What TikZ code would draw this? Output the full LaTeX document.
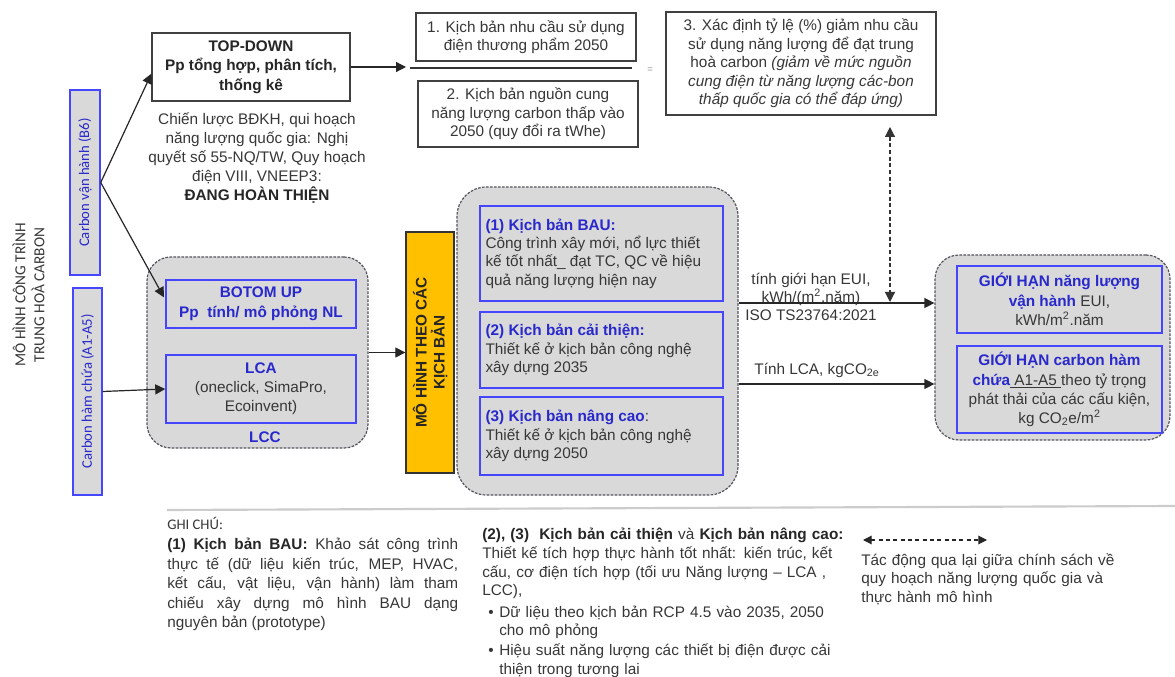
\documentclass[tikz,border=0pt]{standalone}
\usepackage{fontspec}
\setmainfont{Liberation Sans}
\newfontfamily\carl{Carlito}
\usetikzlibrary{arrows.meta,calc}
\definecolor{txt}{RGB}{55,55,55}
\definecolor{bt}{RGB}{40,40,205}
\definecolor{bb}{RGB}{70,70,255}
\definecolor{gf}{RGB}{217,217,217}
\definecolor{org}{RGB}{255,192,0}
\definecolor{dgr}{RGB}{85,85,95}
\hyphenpenalty=10000
\exhyphenpenalty=10000
\begin{document}
\begin{tikzpicture}[x=0.75pt,y=-0.75pt,
  font=\fontsize{11.5}{13.8}\selectfont,
  plainbox/.style={draw=black!75,line width=0.9pt,fill=white,align=center,inner sep=0pt,text=txt},
  bluebox/.style={draw=bb,line width=1.1pt,fill=gf,inner sep=0pt,align=center},
  cont/.style={draw=dgr,dash pattern=on 2pt off 1pt,line width=0.9pt,fill=gf,rounded corners=18pt,inner sep=0pt},
  arr/.style={-{Triangle[length=7.5pt,width=7.5pt]},line width=0.9pt,draw=black!85},
  darr/.style={{Triangle[length=7.5pt,width=7.5pt]}-{Triangle[length=7.5pt,width=7.5pt]},line width=0.9pt,draw=black!80,dash pattern=on 3pt off 2pt},
  larr/.style={{Triangle[length=6.5pt,width=6.5pt]}-{Triangle[length=6.5pt,width=6.5pt]},line width=0.8pt,draw=black!85,dash pattern=on 3pt off 2.5pt},
  vbox/.style={bluebox,rotate=90,font=\carl\fontsize{11}{13}\selectfont,text=bt},
  lbl/.style={inner sep=0pt,text=txt},
  btitle/.style={font=\bfseries\fontsize{11.5}{13.8}\selectfont}
]
\fill[white] (0,0) rectangle (1175,677);
\useasboundingbox (0,0) rectangle (1175,677);

% left labels
\node[lbl,rotate=90,align=center,font=\carl\fontsize{11.5}{14.2}\selectfont] (mh) at (28.5,295) {MÔ HÌNH CÔNG TRÌNH\\TRUNG HOÀ CARBON};
\node[vbox,minimum width=138.75pt,minimum height=22.5pt] (b6) at (85,182.5) {Carbon vận hành (B6)};
\node[vbox,minimum width=155.25pt,minimum height=21.75pt] (a1) at (87.5,391.5) {Carbon hàm chứa (A1-A5)};

% top-down
\node[plainbox,minimum width=148.5pt,minimum height=51pt,font=\bfseries\fontsize{11.5}{14.6}\selectfont,text=black!85] (td) at (251,67) {TOP-DOWN\\Pp tổng hợp, phân tích,\\thống kê};
\node[lbl,align=center,font=\fontsize{11.5}{14.1}\selectfont] (cap) at (257,158) {Chiến lược BĐKH, qui hoạch\\năng lượng quốc gia: Nghị\\quyết số 55-NQ/TW, Quy hoạch\\điện VIII, VNEEP3:\\\textbf{\color{black!85}ĐANG HOÀN THIỆN}};

\node[plainbox,minimum width=165pt,minimum height=36pt] (k1) at (526,37) {1. Kịch bản nhu cầu sử dụng\\điện thương phẩm 2050};
\node[plainbox,minimum width=165pt,minimum height=49.5pt] (k2) at (528,114) {2. Kịch bản nguồn cung\\năng lượng carbon thấp vào\\2050 (quy đổi ra tWhe)};
\node[lbl,text=black!45,font=\fontsize{7}{8}\selectfont] (eq) at (650,70) {=};
\node[plainbox,minimum width=202.5pt,minimum height=77.25pt] (k3) at (801,63.5) {3. Xác định tỷ lệ (\%) giảm nhu cầu\\sử dụng năng lượng để đạt trung\\hoà carbon \textit{(giảm về mức nguồn}\\\textit{cung điện từ năng lượng các-bon}\\\textit{thấp quốc gia có thể đáp ứng)}};
\coordinate (fbtip) at (406,67);
\coordinate (fb1) at (410,68);
\coordinate (fb2) at (632,68);
\draw[line width=0.9pt,black!80] (fb1) -- (fb2);
\draw[arr] (td.east) -- (fbtip);

% LCC group
\node[cont,minimum width=165.75pt,minimum height=143.25pt] (lcc) at (257.5,352.5) {};
\node[bluebox,minimum width=142.5pt,minimum height=36pt,text=bt,font=\bfseries\fontsize{11.5}{15}\selectfont] (bu) at (261,304) {BOTOM UP\\Pp\ \ tính/ mô phỏng NL};
\node[bluebox,minimum width=142.5pt,minimum height=51pt,text=txt,font=\fontsize{11.5}{14.2}\selectfont] (lca) at (261,389) {\textcolor{bt}{\bfseries LCA}\\(oneclick, SimaPro,\\Ecoinvent)};
\node[lbl,text=bt,btitle] (lcct) at (265,437) {LCC};

\draw[arr] (b6.south) -- ([yshift=-5pt]td.west);
\draw[arr] (b6.south) -- ([yshift=5pt,xshift=-1pt]bu.west);
\draw[arr] (a1.south) -- (lca.west);

% orange
\node[draw=black!80,fill=org,line width=1pt,rotate=90,minimum width=180.75pt,minimum height=36pt,inner sep=0pt,align=center,text=black!85,font=\bfseries\fontsize{11.5}{13.5}\selectfont] (om) at (430,352.5) {MÔ HÌNH THEO CÁC\\KỊCH BẢN};
\draw[arr] (lcc.east) -- (om.north);

% scenarios
\node[cont,rounded corners=22pt,minimum width=210.75pt,minimum height=231pt] (sc) at (597.5,341) {};
\node[bluebox,minimum width=182.25pt,minimum height=71.25pt] (s1) at (601.5,253.5) {};
\node[bluebox,minimum width=182.25pt,minimum height=57pt] (s2) at (601.5,350) {};
\node[bluebox,minimum width=182.25pt,minimum height=58.5pt] (s3) at (601.5,436) {};
\node[lbl,anchor=west,align=left] (s1t) at ([xshift=4.5pt]s1.west) {\textcolor{bt}{\bfseries (1) Kịch bản BAU:}\\Công trình xây mới, nổ lực thiết\\kế tốt nhất\_ đạt TC, QC về hiệu\\quả năng lượng hiện nay};
\node[lbl,anchor=west,align=left] (s2t) at ([xshift=4.5pt]s2.west) {\textcolor{bt}{\bfseries (2) Kịch bản cải thiện:}\\Thiết kế ở kịch bản công nghệ\\xây dựng 2035};
\node[lbl,anchor=west,align=left] (s3t) at ([xshift=4.5pt]s3.west) {\textcolor{bt}{\bfseries (3) Kịch bản nâng cao}:\\Thiết kế ở kịch bản công nghệ\\xây dựng 2050};

% right group
\node[cont,minimum width=176.25pt,minimum height=138.75pt] (rc) at (1052.5,347.5) {};
\node[bluebox,minimum width=153.75pt,minimum height=50.25pt,text=txt,font=\fontsize{11.5}{14.5}\selectfont] (ga) at (1059.5,299.5) {\textcolor{bt}{\bfseries GIỚI HẠN năng lượng}\\\textcolor{bt}{\bfseries vận hành} EUI,\\kWh/m\textsuperscript{2}.năm};
\node[bluebox,minimum width=153.75pt,minimum height=65.25pt,text=txt,font=\fontsize{11.5}{14.4}\selectfont] (gb) at (1059.5,389.5) {\textcolor{bt}{\bfseries GIỚI HẠN carbon hàm}\\\textcolor{bt}{\bfseries chứa}\underline{\ A1-A5\ }theo tỷ trọng\\phát thải của các cấu kiện,\\kg CO\textsubscript{2}e/m\textsuperscript{2}};

\node[lbl,align=center] (eui) at (811,297) {tính giới hạn EUI,\\kWh/(m\textsuperscript{2}.năm)\\ISO TS23764:2021};
\node[lbl] (lcat) at (817,370) {Tính LCA, kgCO\textsubscript{2e}};
\draw[arr] (sc.east |- 0,303) -- (rc.west |- 0,303);
\draw[arr] (sc.east |- 0,384) -- (rc.west |- 0,384);
\coordinate (dv1) at (890,127);
\coordinate (dv2) at (890,302);
\draw[darr] (dv1) -- (dv2);

% notes
\draw[gray!40,line width=1.6pt] (167,510) -- (1175,506);
\node[lbl,anchor=base west,font=\carl\fontsize{11}{13}\selectfont] (gc) at (167,529) {GHI CHÚ:};
\node[lbl,anchor=north west,text width=218.25pt,align=justify,font=\fontsize{11.5}{14.6}\selectfont] (n1) at (167,538) {\textbf{\color{black!85}(1) Kịch bản BAU:} Khảo sát công trình\linebreak thực tế (dữ liệu kiến trúc, MEP, HVAC,\linebreak kết cấu, vật liệu, vận hành) làm tham\linebreak chiếu xây dựng mô hình BAU dạng\linebreak nguyên bản (prototype)};
\node[lbl,anchor=north west,text width=285pt,align=left,font=\fontsize{11.5}{14}\selectfont] (n2) at (482,528) {\textbf{\color{black!85}(2), (3)\ \ Kịch bản cải thiện} và \textbf{\color{black!85}Kịch bản nâng cao:}\\Thiết kế tích hợp thực hành tốt nhất: kiến trúc, kết\\cấu, cơ điện tích hợp (tối ưu Năng lượng – LCA ,\\LCC),\\[2pt]\makebox[12.75pt][l]{\hspace*{4.5pt}•}Dữ liệu theo kịch bản RCP 4.5 vào 2035, 2050\\\hspace*{12.75pt}cho mô phỏng\\[1pt]\makebox[12.75pt][l]{\hspace*{4.5pt}•}Hiệu suất năng lượng các thiết bị điện được cải\\\hspace*{12.75pt}thiện trong tương lai};
\coordinate (lg1) at (863,540);
\coordinate (lg2) at (987,540);
\draw[larr] (lg1) -- (lg2);
\node[lbl,anchor=north west,text width=210pt,align=left,font=\fontsize{11.5}{13.9}\selectfont] (n3) at (861,553) {Tác động qua lại giữa chính sách về\\quy hoạch năng lượng quốc gia và\\thực hành mô hình};
\end{tikzpicture}
\end{document}
